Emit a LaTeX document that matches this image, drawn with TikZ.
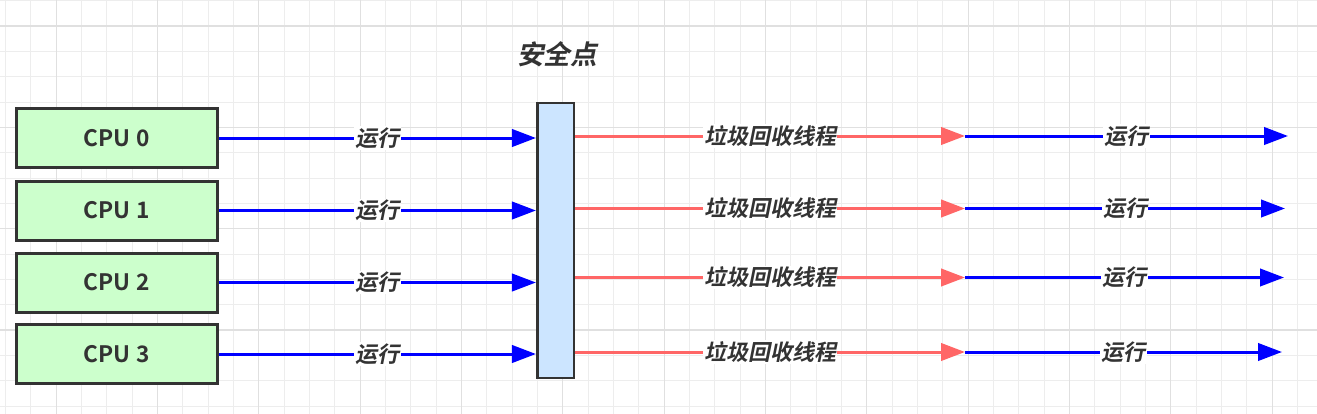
\documentclass[tikz,border=0pt]{standalone}
\usepackage{fontspec}
\usetikzlibrary{arrows.meta}
\newfontfamily\cjkbold{Noto Sans CJK SC Bold}
\newfontfamily\cjkslant[FakeSlant=0.2]{Noto Sans CJK SC Bold}
\definecolor{cpugreen}{HTML}{CCFFCC}
\definecolor{safeblue}{HTML}{CCE5FF}
\definecolor{boxline}{HTML}{333333}
\definecolor{txt}{HTML}{333333}
\definecolor{runblue}{HTML}{0000FF}
\definecolor{gcred}{HTML}{FF6666}
\definecolor{gridlight}{HTML}{EDEDED}
\definecolor{griddark}{HTML}{E0E0E0}

\begin{document}
\begin{tikzpicture}[x=0.75pt,y=-0.75pt,
  cpubox/.style={draw=boxline,line width=2.25pt,fill=cpugreen,minimum width=151pt,minimum height=44.25pt,font=\cjkbold\fontsize{17}{17}\selectfont,text=txt},
  safebox/.style={draw=boxline,line width=1.9pt,fill=safeblue,minimum width=27.4pt,minimum height=206.3pt,inner sep=0pt},
  runline/.style={draw=runblue,line width=2.25pt,-{Triangle[length=18pt,width=13pt]}},
  gcline/.style={draw=gcred,line width=2.25pt,-{Triangle[length=18pt,width=13pt]}},
  lbl/.style={font=\cjkslant\fontsize{16.5}{16.5}\selectfont,text=txt,fill=white,inner sep=1pt},
  gridminor/.style={draw=gridlight,line width=0.75pt},
  gridmajor/.style={draw=griddark,line width=0.9pt}]
\useasboundingbox (0,0) rectangle (1317,414);
\fill[white] (0,0) rectangle (1317,414);
% background grid
\begin{scope}[shift={(4.125pt,-0.5pt)}]
\draw[gridminor,step=19pt] (-19pt,19pt) grid (1000pt,-320pt);
\end{scope}
\begin{scope}[shift={(42.125pt,-19.5pt)}]
\draw[gridmajor,step=76pt] (-76pt,76pt) grid (1000pt,-320pt);
\end{scope}
% processors and safe point
\node[cpubox] (cpu0) at (116.7,138) {CPU 0};
\node[cpubox] (cpu1) at (116.7,210.5) {CPU 1};
\node[cpubox] (cpu2) at (116.7,282.5) {CPU 2};
\node[cpubox] (cpu3) at (116.7,354) {CPU 3};
\node[safebox] (safe) at (555.5,240.5) {};
\node[font=\cjkslant\fontsize{20}{20}\selectfont,text=txt] (title) at (557,54) {安全点};
% running until the safe point
\draw[runline] (cpu0.east) -- (cpu0.east -| safe.west) node[lbl,midway] (runa0) {运行};
\draw[runline] (cpu1.east) -- (cpu1.east -| safe.west) node[lbl,midway] (runa1) {运行};
\draw[runline] (cpu2.east) -- (cpu2.east -| safe.west) node[lbl,midway] (runa2) {运行};
\draw[runline] (cpu3.east) -- (cpu3.east -| safe.west) node[lbl,midway] (runa3) {运行};
% gc, then running again
\coordinate (gc0) at (965,136);
\coordinate (gc1) at (965,208.5);
\coordinate (gc2) at (965,277.5);
\coordinate (gc3) at (965,352);
\coordinate (end0) at (1288,136);
\coordinate (end1) at (1285,208.5);
\coordinate (end2) at (1284,277.5);
\coordinate (end3) at (1282,352);
\draw[gcline] (safe.east |- gc0) -- (gc0) node[lbl,midway] (gclbl0) {垃圾回收线程};
\draw[gcline] (safe.east |- gc1) -- (gc1) node[lbl,midway] (gclbl1) {垃圾回收线程};
\draw[gcline] (safe.east |- gc2) -- (gc2) node[lbl,midway] (gclbl2) {垃圾回收线程};
\draw[gcline] (safe.east |- gc3) -- (gc3) node[lbl,midway] (gclbl3) {垃圾回收线程};
\draw[runline] (gc0) -- (end0) node[lbl,midway] (runb0) {运行};
\draw[runline] (gc1) -- (end1) node[lbl,midway] (runb1) {运行};
\draw[runline] (gc2) -- (end2) node[lbl,midway] (runb2) {运行};
\draw[runline] (gc3) -- (end3) node[lbl,midway] (runb3) {运行};
\end{tikzpicture}
\end{document}
